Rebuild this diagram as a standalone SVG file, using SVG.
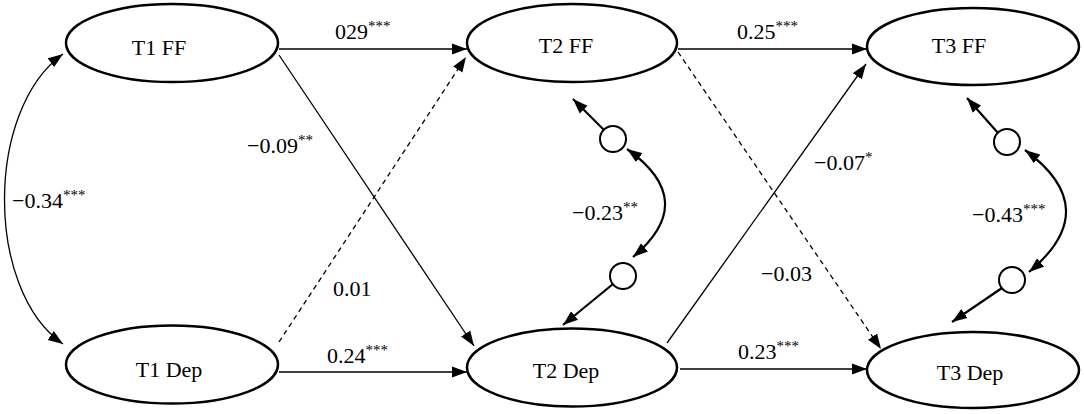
<svg xmlns="http://www.w3.org/2000/svg" width="1084" height="414" viewBox="0 0 1084 414" font-family="'Liberation Serif', 'DejaVu Serif', serif">
<style>
text{font-family:'Liberation Serif','DejaVu Serif',serif;font-size:22px;fill:#000}
#labels text{font-size:22px}
.node{fill:#fff;stroke:#000;stroke-width:2.5}
.c{fill:none;stroke:#000;stroke-width:1.3}
.d{fill:none;stroke:#000;stroke-width:1.3;stroke-dasharray:5 4}
.r{fill:none;stroke:#000;stroke-width:2.2}
.res{fill:#fff;stroke:#000;stroke-width:2}
#labels .sup{font-size:15px}
</style>
<defs>
<marker id="ah" markerUnits="userSpaceOnUse" markerWidth="16" markerHeight="12" refX="15" refY="6" orient="auto-start-reverse">
<path d="M0,0.5 L15,6 L0,11.5 z" fill="#000"/>
</marker>
</defs>
<rect width="1084" height="414" fill="#fff"/>
<g id="connectors">
<path class="c" d="M63 54 C -15 110, -15 290, 63 344" marker-start="url(#ah)" marker-end="url(#ah)"/>
<line class="c" x1="279" y1="49" x2="467" y2="49" marker-end="url(#ah)"/>
<line class="c" x1="279" y1="55" x2="474" y2="346" marker-end="url(#ah)"/>
<line class="d" x1="279" y1="342" x2="466" y2="57" marker-end="url(#ah)"/>
<line class="c" x1="279" y1="372" x2="467" y2="372" marker-end="url(#ah)"/>
<line class="c" x1="678" y1="49" x2="867" y2="49" marker-end="url(#ah)"/>
<line class="d" x1="678" y1="52" x2="881" y2="349" marker-end="url(#ah)"/>
<line class="c" x1="667" y1="343" x2="866" y2="64" marker-end="url(#ah)"/>
<line class="c" x1="680" y1="369" x2="867" y2="369" marker-end="url(#ah)"/>
<line class="r" x1="604" y1="130" x2="573" y2="99" marker-end="url(#ah)"/>
<line class="r" x1="613" y1="284" x2="563" y2="325" marker-end="url(#ah)"/>
<path class="r" d="M627 149 Q700 201 633 257" marker-start="url(#ah)" marker-end="url(#ah)"/>
<line class="r" x1="998" y1="133" x2="967" y2="98" marker-end="url(#ah)"/>
<line class="r" x1="1002" y1="288" x2="952" y2="322" marker-end="url(#ah)"/>
<path class="r" d="M1025 150 Q1105 209 1029 272" marker-start="url(#ah)" marker-end="url(#ah)"/>
</g>
<g id="T1FF"><ellipse class="node" cx="172" cy="43" rx="106" ry="39"/><text x="159" y="55" text-anchor="middle">T1 FF</text></g>
<g id="T1Dep"><ellipse class="node" cx="172" cy="364.5" rx="106" ry="39"/><text x="169" y="377" text-anchor="middle">T1 Dep</text></g>
<g id="T2FF"><ellipse class="node" cx="572" cy="43" rx="105" ry="39"/><text x="566" y="53" text-anchor="middle">T2 FF</text></g>
<g id="T2Dep"><ellipse class="node" cx="572" cy="367.5" rx="105" ry="39"/><text x="566" y="378" text-anchor="middle">T2 Dep</text></g>
<g id="T3FF"><ellipse class="node" cx="973" cy="46.5" rx="106" ry="38.5"/><text x="959" y="53" text-anchor="middle">T3 FF</text></g>
<g id="T3Dep"><ellipse class="node" cx="973" cy="370" rx="106" ry="38"/><text x="970" y="380" text-anchor="middle">T3 Dep</text></g>
<g id="e2FF"><circle class="res" cx="613" cy="139" r="13"/></g>
<g id="e2Dep"><circle class="res" cx="623" cy="276" r="13"/></g>
<g id="e3FF"><circle class="res" cx="1007" cy="142" r="13"/></g>
<g id="e3Dep"><circle class="res" cx="1012" cy="280" r="13"/></g>
<g id="labels">
<text x="335" y="39">029<tspan class="sup" dy="-8">***</tspan></text>
<text x="737" y="39">0.25<tspan class="sup" dy="-8">***</tspan></text>
<text x="247" y="153">−0.09<tspan class="sup" dy="-8">**</tspan></text>
<text x="333" y="296">0.01</text>
<text x="327" y="363">0.24<tspan class="sup" dy="-8">***</tspan></text>
<text x="814" y="170">−0.07<tspan class="sup" dy="-8">*</tspan></text>
<text x="761" y="281">−0.03</text>
<text x="738" y="359">0.23<tspan class="sup" dy="-8">***</tspan></text>
<text x="12" y="208">−0.34<tspan class="sup" dy="-8">***</tspan></text>
<text x="572" y="220">−0.23<tspan class="sup" dy="-8">**</tspan></text>
<text x="972" y="222">−0.43<tspan class="sup" dy="-8">***</tspan></text>
</g>
</svg>
